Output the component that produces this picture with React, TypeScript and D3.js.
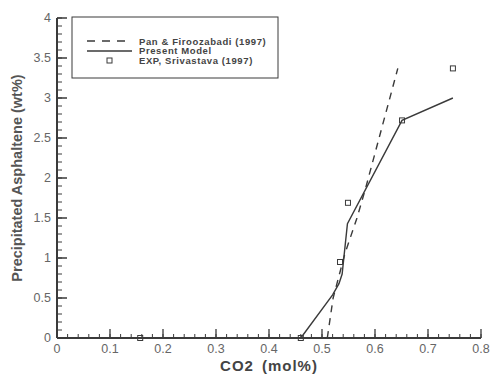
import React from 'react';
import * as d3 from 'd3';

const width = 492;
const height = 376;
const margin = { top: 18, right: 11, bottom: 38, left: 57 };

// Pan & Firoozabadi (1997), dashed
const panX = [0.51, 0.521, 0.543, 0.566, 0.583, 0.643];
const panY = [0, 0.5, 1.05, 1.5, 1.89, 3.37];

// present model, solid
const modelX = [0.46, 0.52, 0.532, 0.538, 0.548, 0.651, 0.747];
const modelY = [0, 0.54, 0.68, 0.8, 1.43, 2.72, 3.0];

// EXP, Srivastava (1997)
const expX = [0.157, 0.46, 0.534, 0.549, 0.651, 0.747];
const expY = [0, 0, 0.95, 1.69, 2.72, 3.37];

const xTicks = [0, 0.1, 0.2, 0.3, 0.4, 0.5, 0.6, 0.7, 0.8];
const yTicks = [0, 0.5, 1, 1.5, 2, 2.5, 3, 3.5, 4];
const legendLabels = ['Pan & Firoozabadi (1997)', 'Present Model', 'EXP, Srivastava (1997)'];

const ink = '#3a3a3a';
const labelInk = '#666';

export default function App() {
  const x = d3.scaleLinear().domain([0, 0.8]).range([margin.left, width - margin.right]);
  const y = d3.scaleLinear().domain([0, 4]).range([height - margin.bottom, margin.top]);

  const line = d3.line<[number, number]>()
    .x(d => x(d[0]))
    .y(d => y(d[1]));

  const panPts = panX.map((v, i) => [v, panY[i]] as [number, number]);
  const modelPts = modelX.map((v, i) => [v, modelY[i]] as [number, number]);

  const xMinor = d3.range(0, 0.8001, 0.02);
  const yMinor = d3.range(0, 4.001, 0.1);
  const x0 = x(0);
  const y0 = y(0);

  return (
    <svg width={width} height={height} style={{ position: 'absolute', left: 0, top: 0, background: '#fff' }}
      fontFamily="Arial, 'Liberation Sans', sans-serif">
      {/* minor ticks, pointing inward */}
      {xMinor.map((t, i) => (
        <line key={'xm' + i} x1={x(t)} x2={x(t)} y1={y0} y2={y0 - 4} stroke={ink} strokeWidth={1} />
      ))}
      {yMinor.map((t, i) => (
        <line key={'ym' + i} x1={x0} x2={x0 + 5} y1={y(t)} y2={y(t)} stroke={ink} strokeWidth={1} />
      ))}
      {xTicks.map(t => (
        <g key={'xt' + t}>
          <line x1={x(t)} x2={x(t)} y1={y0} y2={y0 - 9} stroke={ink} strokeWidth={1.3} />
          <text x={x(t)} y={y0 + 15} textAnchor="middle" fontSize={12.5} fill={labelInk}>{t}</text>
        </g>
      ))}
      {yTicks.map(t => (
        <g key={'yt' + t}>
          <line x1={x0} x2={x0 + 10} y1={y(t)} y2={y(t)} stroke={ink} strokeWidth={1.5} />
          <text x={x0 - 6} y={y(t) + 4} textAnchor="end" fontSize={12.5} fill={labelInk}>{t}</text>
        </g>
      ))}
      {/* axis lines */}
      <line x1={x0} x2={x(0.8)} y1={y0} y2={y0} stroke={ink} strokeWidth={2} />
      <line x1={x0} x2={x0} y1={y0} y2={y(4)} stroke={ink} strokeWidth={2} />

      {/* series */}
      <path d={line(panPts) || ''} fill="none" stroke={ink} strokeWidth={1.4} strokeDasharray="7,6" />
      <path d={line(modelPts) || ''} fill="none" stroke={ink} strokeWidth={1.4} />
      {expX.map((v, i) => (
        <rect key={'e' + i} x={x(v) - 2.5} y={y(expY[i]) - 2.5} width={5} height={5}
          fill="none" stroke={ink} strokeWidth={1} />
      ))}

      {/* legend */}
      <rect x={72} y={17} width={206} height={61} fill="none" stroke={ink} strokeWidth={1} />
      <line x1={87} x2={132} y1={41} y2={41} stroke={ink} strokeWidth={1.3} strokeDasharray="8,7" />
      <line x1={87} x2={132} y1={51} y2={51} stroke={ink} strokeWidth={1.3} />
      <rect x={107} y={58} width={5} height={5} fill="none" stroke={ink} strokeWidth={1} />
      {legendLabels.map((s, i) => (
        <text key={s} x={139} y={44.5 + i * 9.8} fontSize={9.5} fontWeight="bold" fill="#444" letterSpacing={0.6}>{s}</text>
      ))}

      {/* axis titles */}
      <text x={269} y={371} textAnchor="middle" fontSize={15} fontWeight="bold" fill="#444" letterSpacing={1}>
        CO2<tspan dx={8}>(mol%)</tspan>
      </text>
      <text transform={`translate(22,${(y0 + y(4)) / 2}) rotate(-90)`} textAnchor="middle" fontSize={14.5}
        fontWeight="bold" fill="#555">
        Precipitated Asphaltene (wt%)
      </text>
    </svg>
  );
}
